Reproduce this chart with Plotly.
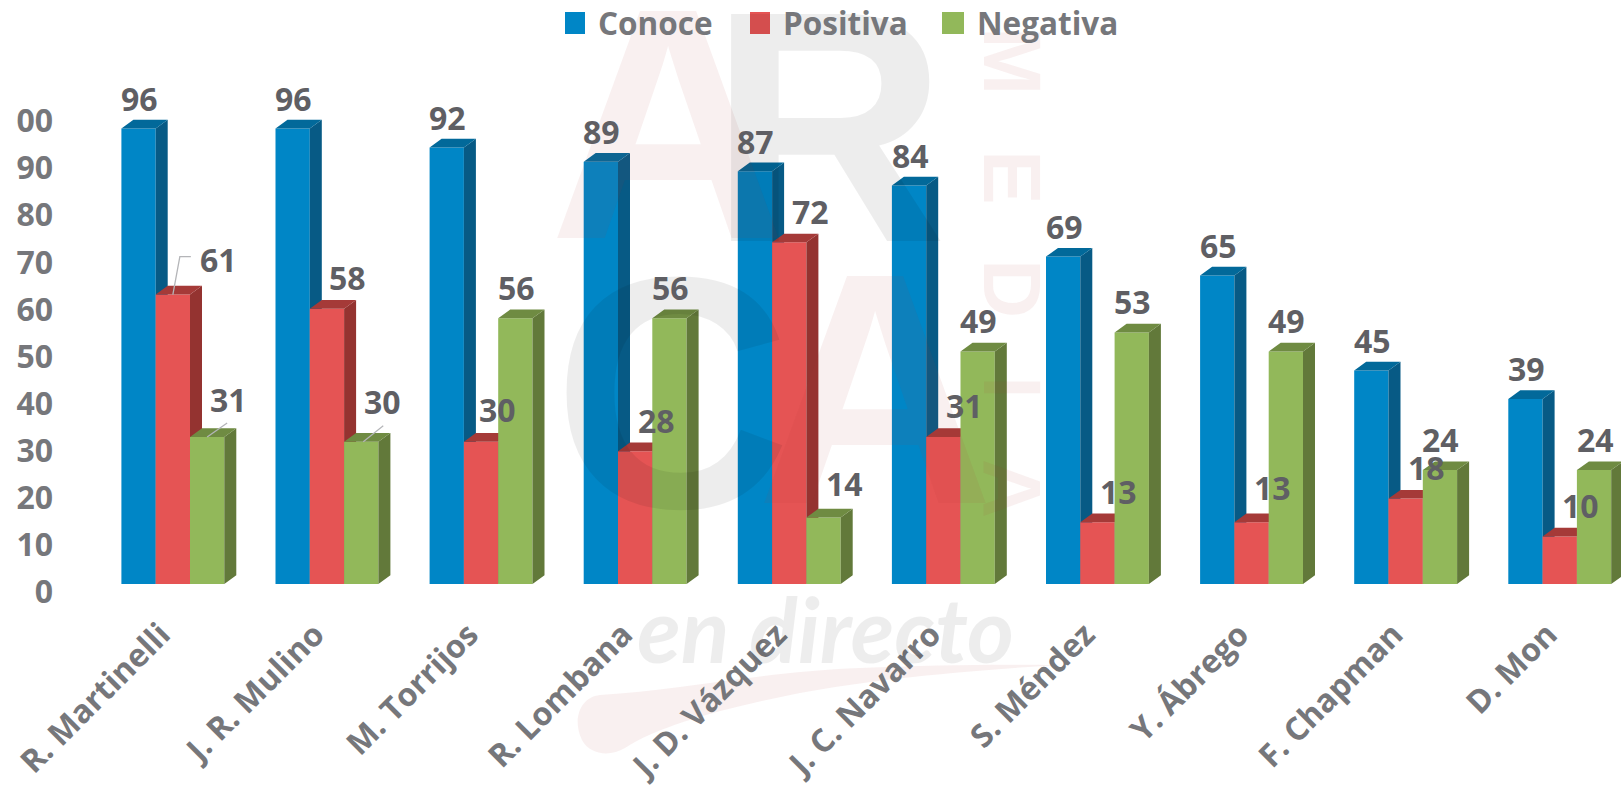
import plotly.graph_objects as go

# ---------- data ----------
categories = ["R. Martinelli", "J. R. Mulino", "M. Torrijos", "R. Lombana", "J. D. Vázquez",
              "J. C. Navarro", "S. Méndez", "Y. Ábrego", "F. Chapman", "D. Mon"]
conoce = [96, 96, 92, 89, 87, 84, 69, 65, 45, 39]
positiva = [61, 58, 30, 28, 72, 31, 13, 13, 18, 10]
negativa = [31, 30, 56, 56, 14, 49, 53, 49, 24, 24]
y_ticks = [0, 10, 20, 30, 40, 50, 60, 70, 80, 90, 100]
# the reference is cropped at its left edge, so the top tick reads "00"
y_tick_labels = ["0", "10", "20", "30", "40", "50", "60", "70", "80", "90", "00"]

# ---------- style / layout constants ----------
W, H = 1621, 789
FONT = "'Open Sans', sans-serif"
TICK_COL = "#76777b"
LABEL_COL = "#5f5f64"
BASE_PX = 584.0
PX_PER_UNIT = 4.745
GROUP_PX = 154.1
FIRST_CENTER_PX = 172.85
BAR_W = 34.3 / GROUP_PX
DEPTH_X = 12.0 / GROUP_PX
DEPTH_Y = 8.7 / PX_PER_UNIT

series = [
    ("Conoce", conoce, "#0086C6", "#075A85", "#02699A", (1, -30)),
    ("Positiva", positiva, "#E55454", "#943330", "#A53A38", (21, -31)),
    ("Negativa", negativa, "#92B85A", "#62793A", "#6F8B42", (1, -31)),
]
label_nudges = {
    (1, 0): (46, -35), (2, 0): (21, -37), (2, 1): (21, -40), (1, 2): (16, -32),
    (2, 4): (21, -34), (1, 7): (21, -35),
}

fig = go.Figure()
x_idx = list(range(len(categories)))
z = 1
for s, (name, vals, front, side, top, _) in enumerate(series):
    off = (s - 1.5) * BAR_W
    fig.add_trace(go.Bar(x=x_idx, y=vals, name=name, marker=dict(color=front, line=dict(width=0)),
                         zorder=z, showlegend=False, hoverinfo="x+y"))
    sx, sy, tx, ty = [], [], [], []
    for i, v in zip(x_idx, vals):
        l = i + off
        r = l + BAR_W
        sx += [r, r + DEPTH_X, r + DEPTH_X, r, r, None]
        sy += [0, DEPTH_Y, v + DEPTH_Y, v, 0, None]
        tx += [l, l + DEPTH_X, r + DEPTH_X, r, l, None]
        ty += [v, v + DEPTH_Y, v + DEPTH_Y, v, v, None]
    for xs, ys, col in ((sx, sy, side), (tx, ty, top)):
        fig.add_trace(go.Scatter(x=xs, y=ys, mode="lines", fill="toself", fillcolor=col,
                                 line=dict(width=0, color=col), zorder=z + 1,
                                 showlegend=False, hoverinfo="skip"))
    z += 2

# invisible carrier for the value-scale axis
fig.add_trace(go.Scatter(x=[0], y=[0], xaxis="x", yaxis="y2", mode="markers",
                         marker=dict(opacity=0), showlegend=False, hoverinfo="skip"))


def px(x):
    return x / W


def py(y):
    return 1 - y / H


annotations = []
GRAY_WM = "rgba(0,0,0,0.072)"
PINK_WM = "rgba(170,50,50,0.075)"
WM_FONT = "'Liberation Sans', sans-serif"
watermark = [
    ("A", 668, 124, 330, PINK_WM, 0),
    ("R", 828, 126, 330, GRAY_WM, 0),
    ("C", 672, 392, 330, GRAY_WM, 0),
    ("A", 875, 388, 330, PINK_WM, 0),
    ("M", 1013, 61, 82, PINK_WM, 90),
    ("E", 1013, 177, 82, PINK_WM, 90),
    ("D", 1013, 288, 82, PINK_WM, 90),
    ("I", 1013, 387, 82, PINK_WM, 90),
    ("A", 1013, 488, 82, PINK_WM, 90),
]
for txt, cx, cy, size, col, ang in watermark:
    annotations.append(dict(text=txt, xref="paper", yref="paper", x=px(cx), y=py(cy),
                            xanchor="center", yanchor="middle", showarrow=False, textangle=ang,
                            font=dict(family=WM_FONT, size=size, color=col, weight="bold")))
annotations.append(dict(text="<i>en directo</i>", xref="paper", yref="paper", x=px(825), y=py(628),
                        xanchor="center", yanchor="middle", showarrow=False,
                        font=dict(family="Lato, sans-serif", size=90, color=GRAY_WM, weight="bold")))

# data labels
for s, (name, vals, _, _, _, nudge) in enumerate(series):
    off = (s - 1) * BAR_W
    for i, v in zip(x_idx, vals):
        dx, dy = label_nudges.get((s, i), nudge)
        annotations.append(dict(text=str(v), x=i + off, y=v, xref="x", yref="y", showarrow=False,
                                xshift=dx, yshift=-dy, xanchor="center", yanchor="middle",
                                font=dict(family=FONT, size=32, color=LABEL_COL, weight="bold")))

# legend
legend_items = [("Conoce", 565, 585, 596, "#0086C6"), ("Positiva", 750, 770, 781, "#E55454"),
                ("Negativa", 942, 964, 975, "#92B85A")]
shapes = []
for name, x0, x1, tx, col in legend_items:
    shapes.append(dict(type="rect", xref="paper", yref="paper", x0=px(x0), x1=px(x1), y0=py(34), y1=py(12),
                       fillcolor=col, line=dict(width=0), layer="above"))
    annotations.append(dict(text=name, xref="paper", yref="paper", x=px(tx), y=py(23), xanchor="left",
                            yanchor="middle", showarrow=False,
                            font=dict(family=FONT, size=31.5, color=TICK_COL, weight="bold")))

# swoosh of the watermark
pts = ("M {},{} C {},{} {},{} {},{} C {},{} {},{} {},{} C {},{} {},{} {},{} C {},{} {},{} {},{} "
       "C {},{} {},{} {},{} C {},{} {},{} {},{} Z")
raw = [600, 695, 680, 690, 760, 672, 860, 668, 930, 665, 1000, 664, 1057, 665, 950, 672, 870, 680, 800, 693,
       730, 707, 660, 725, 625, 748, 610, 757, 590, 755, 582, 740, 572, 720, 580, 697, 600, 695]
conv = [px(v) if k % 2 == 0 else py(v) for k, v in enumerate(raw)]
shapes.append(dict(type="path", xref="paper", yref="paper", path=pts.format(*conv),
                   fillcolor=PINK_WM, line=dict(width=0), layer="below"))


def leader(i, s, v, pts_px):
    """Leader line starting on a bar top, given as pixel offsets."""
    cx = i + (s - 1) * BAR_W
    fig.add_trace(go.Scatter(x=[cx + p[0] / GROUP_PX for p in pts_px], y=[v + p[1] / PX_PER_UNIT for p in pts_px],
                             mode="lines", line=dict(color="#b4b5b8", width=1.3), zorder=20,
                             showlegend=False, hoverinfo="skip"))


leader(0, 1, positiva[0], [(0, 0), (7, 38), (18, 38)])
leader(0, 2, negativa[0], [(0, 0), (20, 14)])
leader(1, 2, negativa[1], [(2, 0), (22, 16)])

fig.update_layout(
    width=W, height=H, margin=dict(l=0, r=0, t=0, b=0, pad=0, autoexpand=False), autosize=False,
    paper_bgcolor="white", plot_bgcolor="rgba(0,0,0,0)", showlegend=False,
    barmode="group", bargap=1 - 3 * BAR_W, bargroupgap=0,
    annotations=annotations, shapes=shapes,
    xaxis=dict(domain=[(FIRST_CENTER_PX - GROUP_PX / 2) / W, 1],
               range=[-0.5, (W - FIRST_CENTER_PX) / GROUP_PX], automargin=False,
               tickmode="array", tickvals=x_idx, ticktext=categories, tickangle=-45,
               ticks="outside", ticklen=18, ticklabelshift=-12, tickcolor="rgba(0,0,0,0)", showgrid=False,
               zeroline=False, showline=False, tickfont=dict(family=FONT, size=32, color=TICK_COL, weight="bold")),
    yaxis=dict(domain=[1 - BASE_PX / H, 1], range=[0, BASE_PX / PX_PER_UNIT], visible=False, automargin=False),
    yaxis2=dict(domain=[1 - 592 / H, 1 - 121 / H], range=[0, 100], anchor="free", position=53 / W, side="left",
                automargin=False, tickmode="array", tickvals=y_ticks, ticktext=y_tick_labels,
                showgrid=False, zeroline=False, showline=False, ticks="",
                tickfont=dict(family=FONT, size=32, color=TICK_COL, weight="bold")),
)

fig.write_html("out.html", config=dict(displayModeBar=False),
               post_script="document.body.style.margin='0';document.documentElement.style.overflow='hidden';")
